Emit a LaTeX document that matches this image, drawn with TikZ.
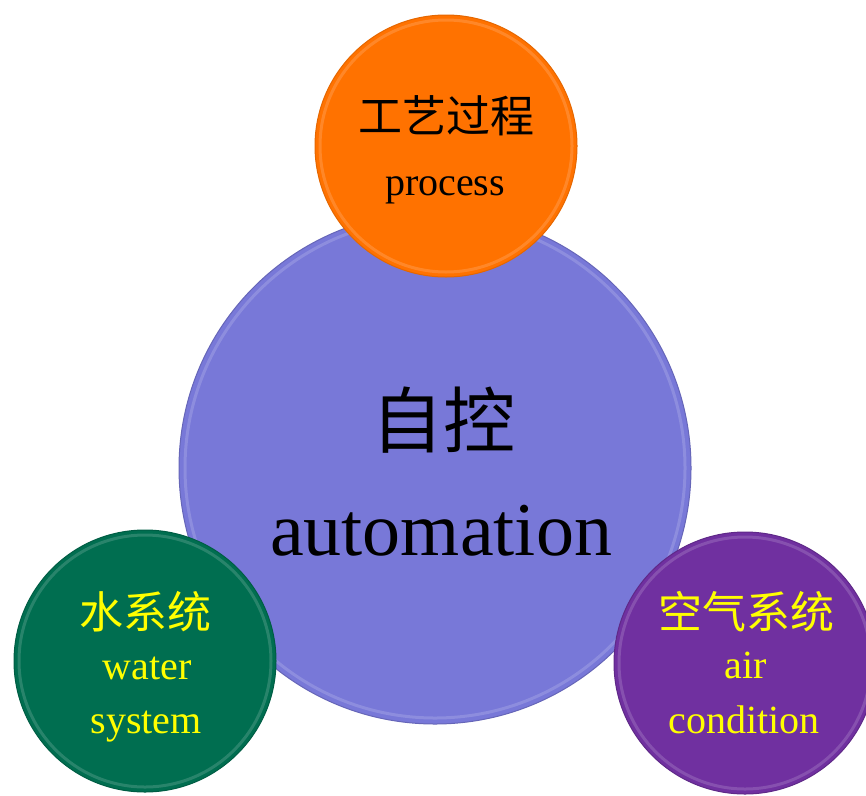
\documentclass[tikz,border=0pt]{standalone}
\usepackage{fontspec}
\setmainfont{Liberation Serif}
\newfontfamily\cjk{Noto Sans CJK SC}
\definecolor{cOrange}{RGB}{255,114,0}
\definecolor{cBlue}{RGB}{120,120,216}
\definecolor{cGreen}{RGB}{0,110,80}
\definecolor{cPurple}{RGB}{112,48,160}
\definecolor{cYellow}{RGB}{255,255,0}
\tikzset{
  ball/.style={circle, inner sep=0pt, minimum size=#1},
  rim/.style={draw=#1!55!white, line width=3pt, opacity=0.35},
  zh/.style={inner sep=0pt, font=\cjk\fontsize{#1}{#1}\selectfont},
  en/.style={inner sep=0pt, anchor=base, font=\fontsize{#1}{#1}\selectfont},
}
\begin{document}
\begin{tikzpicture}[x=1pt,y=-1pt]
\useasboundingbox (0,0) rectangle (866,795);
% central circle
\node[ball=512pt, fill=cBlue, draw=cBlue!85!black, line width=1pt] (auto) at (435,468) {};
\draw[rim=cBlue] (auto.center) circle[radius=250pt];
% top circle
\node[ball=262pt, fill=cOrange, draw=cOrange!90!black, line width=1pt] (proc) at (446,146) {};
\draw[rim=cOrange] (proc.center) circle[radius=126pt];
% left circle
\node[ball=262pt, fill=cGreen, draw=cGreen!85!black, line width=1pt] (water) at (145,661) {};
\draw[rim=cGreen] (water.center) circle[radius=126pt];
% right circle
\node[ball=262pt, fill=cPurple, draw=cPurple!85!black, line width=1pt] (air) at (745,663) {};
\draw[rim=cPurple] (air.center) circle[radius=126pt];
% texts
\node[zh=72] (zk) at (443,420) {自控};
\node[en=76] (am) at (441,555) {automation};
\node[zh=44] (gy) at (446,116) {工艺过程};
\node[en=40] (pr) at (445,195) {process};
\node[zh=44, text=cYellow] (sx) at (145,612) {水系统};
\node[en=40, text=cYellow] (wt) at (147,679) {water};
\node[en=40, text=cYellow] (sy) at (146,733) {system};
\node[zh=44, text=cYellow] (kq) at (746,612) {空气系统};
\node[en=40, text=cYellow] (ai) at (746,678) {air};
\node[en=40, text=cYellow] (cd) at (744,733) {condition};
\end{tikzpicture}
\end{document}
